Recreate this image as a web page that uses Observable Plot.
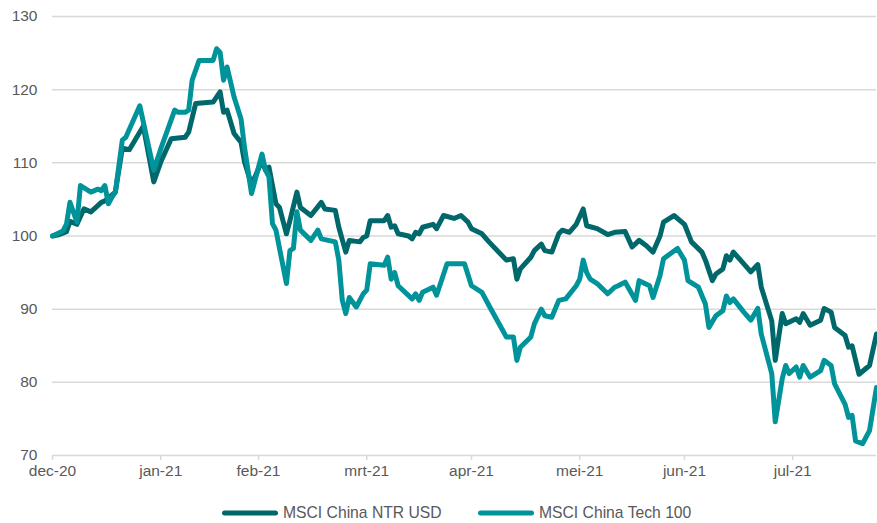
<!DOCTYPE html>
<html>
<head>
<meta charset="utf-8">
<script src="https://cdn.jsdelivr.net/npm/d3@7"></script>
<script src="https://cdn.jsdelivr.net/npm/@observablehq/plot@0.6"></script>
<style>
  html, body { margin: 0; padding: 0; background: #fff; }
  #chart { width: 877px; }
  .legend { position: relative; height: 33px; font-family: "Liberation Sans", Arial, sans-serif; font-size: 15.7px; color: #595959; }
  .legend .item { position: absolute; top: 14px; display: flex; align-items: center; white-space: nowrap; }
  .legend svg { display: block; margin-right: 4px; }
</style>
</head>
<body>
<div id="chart"></div>
<script>
// ---- data ----
const seriesNames = ["MSCI China NTR USD", "MSCI China Tech 100"];
const seriesColors = ["#00686b", "#00939a"];

const ntrDates = ["2020-12-31","2021-01-02","2021-01-04","2021-01-05","2021-01-07","2021-01-09","2021-01-11","2021-01-14","2021-01-15","2021-01-18","2021-01-20","2021-01-22","2021-01-26","2021-01-29","2021-01-31","2021-02-03","2021-02-07","2021-02-08","2021-02-10","2021-02-15","2021-02-17","2021-02-18","2021-02-19","2021-02-21","2021-02-23","2021-02-24","2021-02-26","2021-03-01","2021-03-02","2021-03-03","2021-03-05","2021-03-06","2021-03-08","2021-03-09","2021-03-11","2021-03-12","2021-03-15","2021-03-18","2021-03-19","2021-03-22","2021-03-23","2021-03-25","2021-03-26","2021-03-29","2021-03-30","2021-03-31","2021-04-01","2021-04-05","2021-04-06","2021-04-07","2021-04-08","2021-04-09","2021-04-12","2021-04-13","2021-04-14","2021-04-15","2021-04-16","2021-04-19","2021-04-20","2021-04-22","2021-04-25","2021-04-27","2021-04-29","2021-04-30","2021-05-03","2021-05-05","2021-05-10","2021-05-12","2021-05-13","2021-05-14","2021-05-17","2021-05-18","2021-05-20","2021-05-21","2021-05-23","2021-05-25","2021-05-26","2021-05-28","2021-05-30","2021-06-01","2021-06-02","2021-06-05","2021-06-08","2021-06-10","2021-06-13","2021-06-15","2021-06-17","2021-06-19","2021-06-21","2021-06-23","2021-06-24","2021-06-27","2021-06-30","2021-07-02","2021-07-05","2021-07-06","2021-07-08","2021-07-09","2021-07-11","2021-07-12","2021-07-13","2021-07-14","2021-07-17","2021-07-19","2021-07-21","2021-07-22","2021-07-25","2021-07-26","2021-07-27","2021-07-28","2021-07-29","2021-08-01","2021-08-02","2021-08-03","2021-08-05","2021-08-08","2021-08-09","2021-08-11","2021-08-12","2021-08-15","2021-08-16","2021-08-17","2021-08-19","2021-08-22","2021-08-24"];
const ntrValues = [100,100.2,100.6,102,101.6,103.7,103.3,104.6,104.8,106,112,111.8,115,107.4,110.1,113.3,113.5,114.2,118.1,118.3,119.7,116.9,117.2,114,112.8,110.1,107,110.3,109,109.4,104.4,103.9,100.3,102.1,106,103.9,102.8,104.6,103.7,103.5,101.2,97.8,99.4,99.2,99.8,100,102.1,102.1,102.8,101.2,101.4,100.3,100,99.6,100.5,100.3,101.2,101.6,101,102.8,102.4,102.8,101.9,101,100.3,99.2,96.7,96.9,94.1,95.5,97.1,98,98.9,98,97.8,100.3,100.8,100.5,101.6,103.7,101.4,101,100.2,100.5,100.6,98.5,99.4,98.7,97.8,100,101.9,102.8,101.6,99.2,97.8,96.7,93.9,94.8,95.5,97.3,96.7,97.8,96.2,95.1,96.1,93,88.4,83,86.2,89.4,88,88.7,88.2,89.4,87.8,88.5,90.1,89.6,87.5,86.4,84.8,85,81.1,82.3,86.6];

const techDates = ["2020-12-31","2021-01-03","2021-01-04","2021-01-05","2021-01-07","2021-01-08","2021-01-11","2021-01-13","2021-01-14","2021-01-15","2021-01-16","2021-01-17","2021-01-18","2021-01-20","2021-01-21","2021-01-25","2021-01-29","2021-01-31","2021-02-04","2021-02-05","2021-02-07","2021-02-08","2021-02-09","2021-02-11","2021-02-15","2021-02-16","2021-02-17","2021-02-18","2021-02-19","2021-02-21","2021-02-23","2021-02-24","2021-02-26","2021-03-01","2021-03-02","2021-03-03","2021-03-04","2021-03-05","2021-03-08","2021-03-09","2021-03-10","2021-03-11","2021-03-12","2021-03-15","2021-03-17","2021-03-18","2021-03-22","2021-03-23","2021-03-24","2021-03-25","2021-03-26","2021-03-28","2021-03-30","2021-03-31","2021-04-01","2021-04-05","2021-04-06","2021-04-07","2021-04-08","2021-04-09","2021-04-13","2021-04-14","2021-04-15","2021-04-16","2021-04-19","2021-04-20","2021-04-23","2021-04-28","2021-04-30","2021-05-03","2021-05-05","2021-05-10","2021-05-12","2021-05-13","2021-05-14","2021-05-17","2021-05-18","2021-05-20","2021-05-21","2021-05-23","2021-05-25","2021-05-27","2021-05-30","2021-05-31","2021-06-01","2021-06-02","2021-06-03","2021-06-05","2021-06-08","2021-06-10","2021-06-11","2021-06-13","2021-06-16","2021-06-17","2021-06-20","2021-06-21","2021-06-23","2021-06-24","2021-06-28","2021-06-30","2021-07-01","2021-07-04","2021-07-06","2021-07-07","2021-07-09","2021-07-11","2021-07-12","2021-07-13","2021-07-14","2021-07-17","2021-07-19","2021-07-21","2021-07-22","2021-07-25","2021-07-26","2021-07-28","2021-07-29","2021-07-30","2021-08-01","2021-08-02","2021-08-03","2021-08-05","2021-08-08","2021-08-09","2021-08-11","2021-08-12","2021-08-15","2021-08-16","2021-08-17","2021-08-18","2021-08-20","2021-08-22","2021-08-24"];
const techValues = [100,100.7,101.6,104.6,101.9,106.9,106,106.4,106.2,106.9,104.4,105.3,106,113.1,113.5,117.8,109,111.9,117.2,116.9,116.9,117.2,121.3,124,124,125.6,125.1,121.3,123.1,119,116,112.1,105.8,111.2,109,108.1,101.7,100.8,93.5,98,98.3,103.3,100.8,99.4,100.8,99.6,99.2,96.7,91.2,89.4,91.6,90.3,92.1,92.6,96.2,96,97.1,94.1,95,93.2,91.4,92.1,91.2,92.3,93,91.9,96.2,96.2,93.2,92.3,90.5,86.2,86.2,83,84.8,86.2,88,90,89.1,88.9,91.2,91.4,93.2,94.1,96.7,95,94.1,93.5,92.1,93,93.2,93.7,91.2,93.9,93.2,91.6,94.6,96.9,98.3,96.7,93.9,93,90.7,87.5,89.1,89.8,91.8,90.9,91.4,89.6,88.5,90.1,86.6,81.2,74.6,80.5,82.3,81.2,82.1,80.7,82.3,80.7,81.6,83,82.3,79.8,77,75.2,75.5,72,71.6,73.4,79.3];

const monthTickDates = ["2020-12-31","2021-01-31","2021-02-28","2021-03-31","2021-04-30","2021-05-31","2021-06-30","2021-07-31"];
const monthTickLabels = ["dec-20","jan-21","feb-21","mrt-21","apr-21","mei-21","jun-21","jul-21"];
const yTicks = [70, 80, 90, 100, 110, 120, 130];

// ---- build tables ----
const parse = d3.utcParse("%Y-%m-%d");
const rows = [];
ntrDates.forEach((d, i) => rows.push({series: seriesNames[0], date: parse(d), value: ntrValues[i]}));
techDates.forEach((d, i) => rows.push({series: seriesNames[1], date: parse(d), value: techValues[i]}));
const tickDates = monthTickDates.map(parse);
const labelMap = new Map(tickDates.map((d, i) => [+d, monthTickLabels[i]]));

const chart = Plot.plot({
  width: 877,
  height: 490,
  marginLeft: 52,
  marginRight: 1,
  marginTop: 16,
  marginBottom: 35,
  style: {fontFamily: "'Liberation Sans', Arial, sans-serif", fontSize: "15.5px", color: "#595959", background: "#fff"},
  x: {type: "utc", domain: [parse(ntrDates[0]), parse(ntrDates[ntrDates.length - 1])]},
  y: {domain: [70, 130]},
  color: {domain: seriesNames, range: seriesColors},
  marks: [
    Plot.gridY(yTicks.filter(v => v > 70), {stroke: "#d9d9d9", strokeOpacity: 1, strokeWidth: 1.5}),
    Plot.ruleY([70], {stroke: "#d9d9d9", strokeWidth: 1.5}),
    Plot.axisY(yTicks, {tickSize: 0, tickPadding: 15, fill: "#595959", fontSize: 15.5, label: null}),
    Plot.axisX(tickDates, {tickSize: 5, tickPadding: 4, stroke: "#d9d9d9", strokeWidth: 1.5, strokeOpacity: 1, fill: "#595959", fontSize: 15.5, label: null, tickFormat: d => labelMap.get(+d)}),
    Plot.line(rows, {x: "date", y: "value", z: "series", stroke: "series", strokeWidth: 5, strokeLinejoin: "round", strokeLinecap: "round"})
  ]
});
document.getElementById("chart").appendChild(chart);

// ---- legend ----
const legend = document.createElement("div");
legend.className = "legend";
const legendX = [221, 477];
seriesNames.forEach((name, i) => {
  const item = document.createElement("div");
  item.className = "item";
  item.style.left = legendX[i] + "px";
  item.innerHTML = `<svg width="58" height="10"><line x1="3.5" y1="5" x2="54.5" y2="5" stroke="${seriesColors[i]}" stroke-width="5" stroke-linecap="round"/></svg><span>${name}</span>`;
  legend.appendChild(item);
});
document.getElementById("chart").appendChild(legend);
</script>
</body>
</html>
